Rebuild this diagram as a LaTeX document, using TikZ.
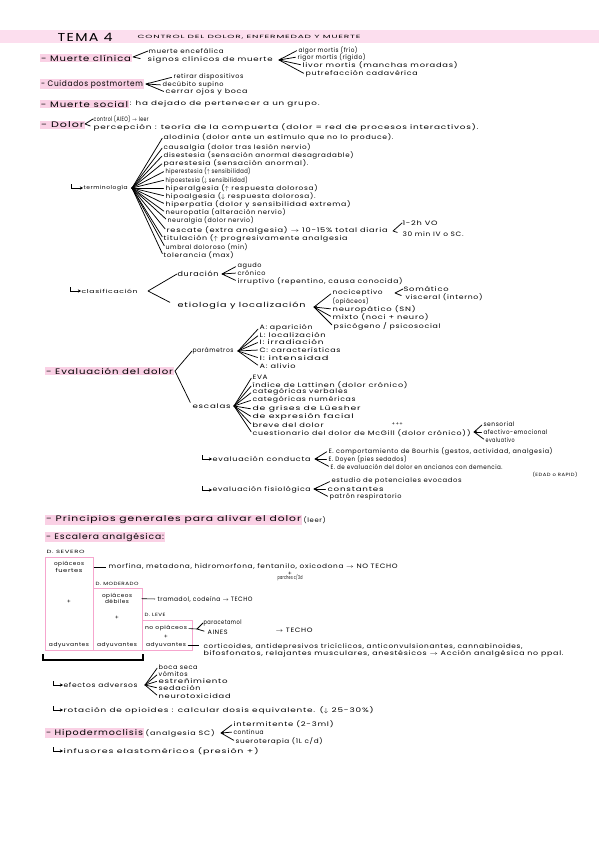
\documentclass[tikz,border=0pt]{standalone}
\usepackage{fontspec}
\setmainfont{Poppins}[LetterSpace=10,FakeStretch=1.1]
\usetikzlibrary{arrows.meta}

\definecolor{marker}{HTML}{FAD1E5}
\definecolor{band}{HTML}{FCDEEE}
\definecolor{ladder}{HTML}{F6A6CE}

% handwritten line: squeeze/stretch a text to the width it has in the notes
\newcommand{\hw}[2]{\resizebox{#1pt}{\height}{#2}}

\begin{document}
\begin{tikzpicture}[
  x=1pt, y=-1pt,
  font=\fontsize{6.3}{7}\selectfont,
  >={Stealth[length=3.2pt,width=3.4pt]},
  txt/.style  ={anchor=west, inner sep=0.4pt},
  ctr/.style  ={inner sep=0.4pt, align=center, font=\fontsize{5.4}{6.2}\selectfont},
  head/.style ={anchor=west, inner sep=0.8pt, fill=marker, font=\fontsize{8}{9}\selectfont},
  mid/.style  ={anchor=west, inner sep=0.4pt, font=\fontsize{7}{8}\selectfont},
  tiny/.style ={anchor=west, inner sep=0.4pt, font=\fontsize{4.6}{5}\selectfont},
  brace/.style={line width=0.75pt, line cap=round, line join=round, shorten >=1.5pt},
  hook/.style ={->, line width=0.6pt},
  rung/.style ={draw=ladder, line width=1.1pt, anchor=north west, inner sep=0pt},
]
\useasboundingbox (0,0) rectangle (599,848);

% ---- title band ----
\fill[band] (0,30) rectangle (599,43);
\node[txt, font=\fontsize{11.5}{12}\selectfont] (tema) at (57,37) {\hw{55}{TEMA 4}};
\node[tiny] (titulo) at (137,37.5) {\hw{223}{CONTROL DEL DOLOR, ENFERMEDAD Y MUERTE}};

% ---- muerte clinica ----
\node[head] (mclin) at (40,58) {\hw{90}{- Muerte clínica}};
\node[txt] (mence) at (148,51) {\hw{75}{muerte encefálica}};
\node[txt] (msign) at (147,60) {\hw{125}{signos clínicos de muerte}};
\coordinate (a-mclin) at (133,57);
\draw[brace, shorten >=7pt] (mence.west) -- (a-mclin) -- (msign.west);

\node[txt] (algor) at (298,50) {\hw{59}{algor mortis (frío)}};
\node[txt] (rigor) at (297,57) {\hw{68}{rigor mortis (rígido)}};
\node[txt] (livor) at (302,65) {\hw{155}{livor mortis (manchas moradas)}};
\node[txt] (putre) at (305,74) {\hw{112}{putrefacción cadavérica}};
\coordinate (a-signos) at (279,60);
\foreach \n in {algor,livor,putre} \draw[brace] (a-signos) -- (\n.west);
\draw[brace,<-] (a-signos) -- (rigor.west);

% ---- cuidados postmortem ----
\node[head] (cuid) at (40,84) {\hw{102}{- Cuidados postmortem}};
\node[txt] (retir) at (173,77) {\hw{70}{retirar dispositivos}};
\node[txt] (decub) at (162,85) {\hw{61}{decúbito supino}};
\node[txt] (cerra) at (165,92) {\hw{82}{cerrar ojos y boca}};
\coordinate (a-cuid) at (146,84);
\foreach \n in {retir,cerra} \draw[brace] (a-cuid) -- (\n.west);
\draw[brace,<-] (a-cuid) -- (decub.west);

% ---- muerte social ----
\node[head] (msoc) at (40,104) {\hw{87}{- Muerte social}};
\node[txt] (msocdef) at (msoc.east) {\hw{190}{: ha dejado de pertenecer a un grupo.}};

% ---- dolor ----
\node[head] (dolor) at (40,125) {\hw{43}{- Dolor}};
\node[txt] (contr) at (93,119) {\hw{55}{control (AIEO) $\to$ leer}};
\node[txt] (perce) at (93,127) {\hw{385}{percepción : teoría de la compuerta (dolor = red de procesos interactivos).}};
\coordinate (a-dolor) at (85,124);
\draw[brace, shorten >=3pt] (contr.west) -- (a-dolor) -- (perce.west);

% terminologia
\coordinate (h-term) at (71,184);
\node[ctr, anchor=west] (term) at (83,188) {\hw{44}{terminología}};
\draw[hook] (h-term) |- (term.west);
\coordinate (a-term) at (132,188);
\foreach \n/\x/\y/\w/\t in {
  alod/163/137/230/{alodinia (dolor ante un estímulo que no lo produce).},
  caus/163/147/147/{causalgia (dolor tras lesión nervio)},
  dise/163/155/190/{disestesia (sensación anormal desagradable)},
  pare/163/163/145/{parestesia (sensación anormal).},
  hipe/165/171/85/{hiperestesia ($\uparrow$ sensibilidad)},
  hipo/165/180/82/{hipoestesia ($\downarrow$ sensibilidad)},
  hpal/165/188/152/{hiperalgesia ($\uparrow$ respuesta dolorosa)},
  hoal/165/196/150/{hipoalgesia ($\downarrow$ respuesta dolorosa).},
  hpat/165/204/185/{hiperpatía (dolor y sensibilidad extrema)},
  neup/165/212/120/{neuropatía (alteración nervio)},
  neul/167/220/86/{neuralgia (dolor nervio)},
  resc/166/230/221/{rescate (extra analgesia) $\to$ 10-15\% total diaria},
  titu/163/238/184/{titulación ($\uparrow$ progresivamente analgesia},
  umbr/165/247/82/{umbral doloroso (min)},
  tole/163/255/70/{tolerancia (max)}}
  {\node[txt] (\n) at (\x,\y) {\hw{\w}{\t}};
   \draw[brace] (a-term) -- (\n.west);}

\node[txt] (vo) at (402,223) {\hw{35}{1-2h VO}};
\node[txt] (iv) at (402,234) {\hw{61}{30 min IV o SC.}};
\coordinate (a-resc) at (393,231);
\draw[brace, shorten >=5pt] (vo.west) -- (a-resc) -- (iv.west);

% clasificacion
\coordinate (h-clas) at (70,287);
\node[ctr, anchor=west] (clas) at (81,291) {\hw{56}{clasificación}};
\draw[hook] (h-clas) |- (clas.west);
\coordinate (a-clas) at (148,291);
\node[mid] (durac) at (177,274) {\hw{41}{duración}};
\node[mid] (etiol) at (177,306) {\hw{128}{etiología y localización}};
\draw[brace, shorten >=8pt] (durac.west) -- (a-clas) -- (etiol.west);

\node[txt] (agudo) at (237,266) {\hw{24}{agudo}};
\node[txt] (croni) at (237,273) {\hw{28}{crónico}};
\node[txt] (irrup) at (237,281) {\hw{165}{irruptivo (repentino, causa conocida)}};
\coordinate (a-durac) at (222,274);
\foreach \n in {agudo,irrup} \draw[brace] (a-durac) -- (\n.west);
\draw[brace,<-] (a-durac) -- (croni.west);

\node[txt] (nocic) at (332,293) {\hw{50}{nociceptivo}};
\node[txt] (opiac) at (332,301) {\hw{36}{(opiáceos)}};
\node[txt] (neuro) at (332,309) {\hw{83}{neuropático (SN)}};
\node[txt] (mixto) at (332,317) {\hw{96}{mixto (noci + neuro)}};
\node[txt] (psico) at (333,326) {\hw{107}{psicógeno / psicosocial}};
\coordinate (a-etiol) at (314,307);
\foreach \n in {nocic,mixto,psico} \draw[brace] (a-etiol) -- (\n.west);
\draw[brace,<-] (a-etiol) -- (neuro.west);

\node[txt] (somat) at (403,289) {\hw{45}{Somático}};
\node[txt] (visce) at (405,297) {\hw{77}{visceral (interno)}};
\coordinate (a-nocic) at (395,293);
\draw[brace, shorten >=4pt] (somat.west) -- (a-nocic) -- (visce.west);

% ---- evaluacion del dolor ----
\node[head] (evalu) at (45,371) {\hw{127}{- Evaluación del dolor}};
\coordinate (a-evalu) at (175,371);
\node[txt] (param) at (192,351) {\hw{41}{parámetros}};
\node[txt] (escal) at (192,406) {\hw{38}{escalas}};
\draw[brace, shorten >=4pt] (param.west) -- (a-evalu) -- (escal.west);

\coordinate (a-param) at (238,351);
\foreach \n/\y/\w/\t in {
  apar/328/53/{A: aparición}, loca/335/66/{L: localización}, irra/342/64/{I: irradiación},
  cara/350/81/{C: características}, inte/358/69/{I: intensidad}, aliv/366/36/{A: alivio}}
  {\node[txt] (\n) at (259,\y) {\hw{\w}{\t}};
   \draw[brace] (a-param) -- (\n.west);}

\coordinate (a-escal) at (234,406);
\foreach \n/\y/\w/\t in {
  eva/377/15/{EVA}, latt/385/155/{índice de Lattinen (dolor crónico)},
  cver/392/95/{categóricas verbales}, cnum/400/103/{categóricas numéricas},
  gris/409/108/{de grises de Lüesher}, expr/417/101/{de expresión facial},
  brev/425/71/{breve del dolor}, mcgi/433/218/{cuestionario del dolor de McGill (dolor crónico)\,)}}
  {\node[txt] (\n) at (252,\y) {\hw{\w}{\t}};
   \draw[brace] (a-escal) -- (\n.west);}
\node[tiny] (plus) at (391,424) {+++};

\node[txt] (senso) at (483,424) {\hw{31}{sensorial}};
\node[txt] (afect) at (483,432) {\hw{64}{afectivo-emocional}};
\node[txt] (evalv) at (485,440) {\hw{29}{evaluativo}};
\coordinate (a-mcgi) at (474,432);
\foreach \n in {senso,evalv} \draw[brace] (a-mcgi) -- (\n.west);
\draw[brace,<-] (a-mcgi) -- (afect.west);

% evaluacion conducta
\coordinate (h-cond) at (202,455);
\node[txt] (cond) at (212,459) {\hw{98}{evaluación conducta}};
\draw[hook] (h-cond) |- (cond.west);
\node[txt] (bourh) at (328,451) {\hw{224}{E. comportamiento de Bourhis (gestos, actividad, analgesia)}};
\node[txt] (doyen) at (328,459) {\hw{78}{E. Doyen (pies sedados)}};
\node[txt] (ancia) at (330,467) {\hw{172}{E. de evaluación del dolor en ancianos con demencia.}};
\node[tiny] (edad) at (532,475) {\hw{45}{(EDAD o RAPID)}};
\coordinate (a-cond) at (315,459);
\foreach \n in {bourh,ancia} \draw[brace] (a-cond) -- (\n.west);
\draw[brace,<-] (a-cond) -- (doyen.west);

% evaluacion fisiologica
\coordinate (h-fisi) at (202,486);
\node[txt] (fisi) at (212,490) {\hw{98}{evaluación fisiológica}};
\draw[hook] (h-fisi) |- (fisi.west);
\node[txt] (estud) at (331,481) {\hw{130}{estudio de potenciales evocados}};
\node[txt] (const) at (327,489) {\hw{56}{constantes}};
\node[txt] (patro) at (329,497) {\hw{72}{patrón respiratorio}};
\coordinate (a-fisi) at (314,489);
\foreach \n in {estud,patro} \draw[brace] (a-fisi) -- (\n.west);
\draw[brace,<-] (a-fisi) -- (const.west);

% ---- principios / escalera ----
\node[head] (princ) at (45,520) {\hw{255}{- Principios generales para alivar el dolor}};
\node[txt] (leer) at (princ.east) {\,\hw{22}{(leer)}};
\node[head] (escalera) at (45,537) {\hw{118}{- Escalera analgésica:}};

\node[rung, minimum width=48pt, minimum height=93pt] (sev) at (45,557) {};
\node[rung, minimum width=49pt, minimum height=62pt] (mod) at (93,588) {};
\node[rung, minimum width=50pt, minimum height=30pt] (lev) at (142,620) {};
\node[tiny] (dsev) at (46,552) {\hw{38}{D. SEVERO}};
\node[tiny] (dmod) at (95,583.5) {\hw{43}{D. MODERADO}};
\node[tiny] (dlev) at (144,614.5) {\hw{21}{D. LEVE}};

\node[ctr] (fuert) at (69,567) {\hw{30}{opiáceos}\\\hw{27}{fuertes}};
\node[ctr] (debil) at (117,598.5) {\hw{30}{opiáceos}\\\hw{24}{débiles}};
\node[ctr] (noopi) at (166,628.5) {\hw{42}{no opiáceos}};
\foreach \n/\x/\y in {pl1/69/602, pl2/117/618, pl3/166/636.5}
  \node[ctr] (\n) at (\x,\y) {+};
\foreach \n/\x in {ady1/69, ady2/117, ady3/166}
  \node[ctr] (\n) at (\x,645) {\hw{40}{adyuvantes}};

\node[txt] (morf) at (108,567) {\hw{289}{morfina, metadona, hidromorfona, fentanilo, oxicodona $\to$ NO TECHO}};
\node[ctr] (parch) at (290,576.5) {+\\[-2pt]\hw{25}{parches c/3d}};
\draw[line width=0.6pt, shorten <=9pt, shorten >=2pt] (fuert.east) -- (morf.west);

\node[txt] (tram) at (157,599) {\hw{95}{tramadol, codeína $\to$ TECHO}};
\draw[line width=0.6pt, shorten <=9pt, shorten >=2pt] (debil.east) -- (tram.west);

\node[txt] (parac) at (203,623) {\hw{38}{paracetamol}};
\node[txt] (aines) at (207,632) {\hw{20}{AINES}};
\node[txt] (techo) at (275,630) {\hw{37}{$\to$ TECHO}};
\coordinate (a-noopi) at (197,629);
\draw[line width=0.6pt, shorten <=1pt] (noopi.east) -- (a-noopi);
\draw[brace, shorten >=3pt] (parac.west) -- (a-noopi) -- (aines.west);

\node[txt, align=left] (corti) at (203,650.5) {\hw{319}{corticoides, antidepresivos tricíclicos, anticonvulsionantes, cannabinoides,}\\\hw{360}{bifosfonatos, relajantes musculares, anestésicos $\to$ Acción analgésica no ppal.}};
\draw[line width=0.6pt, shorten <=1pt, shorten >=4pt] (ady3.east) -- (ady3.east -| corti.west);

\coordinate (bk-l) at (43,654);
\coordinate (bk-r) at (143,654);
\draw[line width=1.7pt] (bk-l) -- ++(0,6) -| (bk-r);

% efectos adversos
\coordinate (h-efec) at (53,681);
\node[txt] (efec) at (63,685) {\hw{74}{efectos adversos}};
\draw[hook] (h-efec) |- (efec.west);
\coordinate (a-efec) at (145,685);
\foreach \n/\y/\w/\t in {
  boca/667/39/{boca seca}, vomi/674/29/{vómitos}, estr/681/69/{estreñimiento},
  seda/688/42/{sedación}, ntox/696/72/{neurotoxicidad}}
  {\node[txt] (\n) at (158,\y) {\hw{\w}{\t}};
   \draw[brace] (a-efec) -- (\n.west);}

% rotacion
\coordinate (h-rota) at (53,706);
\node[txt] (rota) at (63,710) {\hw{310}{rotación de opioides : calcular dosis equivalente. ($\downarrow$ 25-30\%)}};
\draw[hook] (h-rota) |- (rota.west);

% ---- hipodermoclisis ----
\node[head] (hipod) at (45,733) {\hw{97}{- Hipodermoclisis}};
\node[txt] (hipsc) at (hipod.east) {\,\hw{69}{(analgesia SC)}};
\node[txt] (inter) at (233,724) {\hw{100}{intermitente (2-3ml)}};
\node[txt] (conti) at (233,732) {\hw{30}{continua}};
\node[txt] (suero) at (235,741) {\hw{87}{sueroterapia (1L c/d)}};
\coordinate (a-hipod) at (221,733);
\foreach \n in {inter,suero} \draw[brace] (a-hipod) -- (\n.west);
\draw[brace,<-] (a-hipod) -- (conti.west);

\coordinate (h-infu) at (53,747);
\node[txt] (infu) at (63,751) {\hw{195}{infusores elastoméricos (presión +)}};
\draw[hook] (h-infu) |- (infu.west);

\end{tikzpicture}
\end{document}
